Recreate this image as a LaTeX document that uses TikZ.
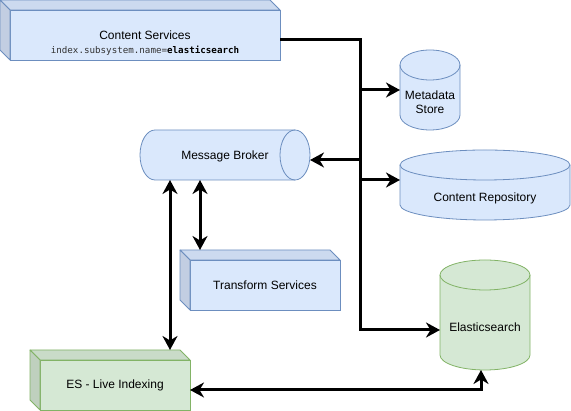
\documentclass[tikz,border=0pt]{standalone}
\usepackage{fontspec}
\setmainfont{Liberation Sans}
\newfontfamily\codefont{DejaVu Sans Mono}
\usetikzlibrary{arrows.meta,backgrounds}

\definecolor{blueFill}{HTML}{DAE8FC}
\definecolor{blueLine}{HTML}{6C8EBF}
\definecolor{blueTop}{HTML}{CCDAEF}
\definecolor{blueSide}{HTML}{C2CEE2}
\definecolor{greenFill}{HTML}{D5E8D4}
\definecolor{greenLine}{HTML}{82B366}
\definecolor{greenTop}{HTML}{C9DBC8}
\definecolor{greenSide}{HTML}{BFD0BE}
\definecolor{codeGray}{HTML}{333333}

\begin{document}
\begin{tikzpicture}[x=1pt, y=1pt, >={Stealth[length=14pt, width=15pt, inset=4.5pt]},
    font=\fontsize{12}{14}\selectfont,
    box/.style={draw=#1Line, fill=#1Fill, line width=0.8pt, inner sep=0pt, outer sep=0pt,
      minimum width=150pt, minimum height=50pt},
    top/.style={draw=#1Line, fill=#1Top, line width=0.8pt, line join=round},
    side/.style={draw=#1Line, fill=#1Side, line width=0.8pt, line join=round},
    db/.style={inner sep=0pt, outer sep=0pt, align=center, text depth=6pt},
    dbface/.style={draw=#1Line, fill=#1Fill, line width=0.8pt},
    dbline/.style={draw=#1Line, line width=0.8pt},
    wire/.style={line width=3pt}]

  \useasboundingbox (0,0) rectangle (571,411);

  %%%%%%%%%%%%%%%%%%%%%%%%%%%%%%%%%%%%%%%%%%%%%%%%%
  % Services (cubes)
  \node[box=blue, minimum width=270pt] (cs) at (145,376) {Content Services};
  \node[font=\codefont\fontsize{9.2}{11}\selectfont] (csNote) at ([yshift=-16pt]cs.center)
      {\textcolor{codeGray}{index.subsystem.name=}\textbf{elasticsearch}};
  \node[box=blue] (ts) at (265,126) {Transform Services};
  \node[box=green] (esl) at (115,26) {ES - Live Indexing};

  % Top and left faces
  \filldraw[top=blue] ([shift={(-10,10)}]cs.north west) -- ([shift={(-10,10)}]cs.north east)
      -- (cs.north east) -- (cs.north west) -- cycle;
  \filldraw[side=blue] ([shift={(-10,10)}]cs.north west) -- (cs.north west)
      -- (cs.south west) -- ([shift={(-10,10)}]cs.south west) -- cycle;
  \filldraw[top=blue] ([shift={(-10,10)}]ts.north west) -- ([shift={(-10,10)}]ts.north east)
      -- (ts.north east) -- (ts.north west) -- cycle;
  \filldraw[side=blue] ([shift={(-10,10)}]ts.north west) -- (ts.north west)
      -- (ts.south west) -- ([shift={(-10,10)}]ts.south west) -- cycle;
  \filldraw[top=green] ([shift={(-10,10)}]esl.north west) -- ([shift={(-10,10)}]esl.north east)
      -- (esl.north east) -- (esl.north west) -- cycle;
  \filldraw[side=green] ([shift={(-10,10)}]esl.north west) -- (esl.north west)
      -- (esl.south west) -- ([shift={(-10,10)}]esl.south west) -- cycle;

  %%%%%%%%%%%%%%%%%%%%%%%%%%%%%%%%%%%%%%%%%%%%%%%%%
  % Stores (cylinders)
  \node[db, text depth=0pt, minimum width=170pt, minimum height=50pt] (mb) at (225,256) {Message Broker};
  \node[db, minimum width=60pt, minimum height=50pt] (meta) at (430,306) {Metadata\\Store};
  \node[db, minimum width=170pt, minimum height=40pt] (repo) at (485,211) {Content Repository};
  \node[db, minimum width=90pt, minimum height=80pt] (es) at (485,81) {Elasticsearch};

  \begin{scope}[on background layer]
    % Message Broker, lying
    \filldraw[dbface=blue] ([xshift=15pt]mb.north west) -- ([xshift=-15pt]mb.north east)
        arc[start angle=90, end angle=-90, x radius=15, y radius=25]
        -- ([xshift=15pt]mb.south west)
        arc[start angle=270, end angle=90, x radius=15, y radius=25] -- cycle;
    \draw[dbline=blue] ([xshift=-15pt]mb.north east)
        arc[start angle=90, end angle=270, x radius=15, y radius=25];

    % Metadata Store
    \filldraw[dbface=blue] ([yshift=15pt]meta.north west) -- ([yshift=15pt]meta.south west)
        arc[start angle=180, end angle=360, x radius=30, y radius=15]
        -- ([yshift=15pt]meta.north east)
        arc[start angle=0, end angle=180, x radius=30, y radius=15] -- cycle;
    \draw[dbline=blue] ([yshift=15pt]meta.north west)
        arc[start angle=180, end angle=360, x radius=30, y radius=15];

    % Content Repository
    \filldraw[dbface=blue] ([yshift=15pt]repo.north west) -- ([yshift=15pt]repo.south west)
        arc[start angle=180, end angle=360, x radius=85, y radius=15]
        -- ([yshift=15pt]repo.north east)
        arc[start angle=0, end angle=180, x radius=85, y radius=15] -- cycle;
    \draw[dbline=blue] ([yshift=15pt]repo.north west)
        arc[start angle=180, end angle=360, x radius=85, y radius=15];

    % Elasticsearch
    \filldraw[dbface=green] ([yshift=15pt]es.north west) -- ([yshift=15pt]es.south west)
        arc[start angle=180, end angle=360, x radius=45, y radius=15]
        -- ([yshift=15pt]es.north east)
        arc[start angle=0, end angle=180, x radius=45, y radius=15] -- cycle;
    \draw[dbline=green] ([yshift=15pt]es.north west)
        arc[start angle=180, end angle=360, x radius=45, y radius=15];
  \end{scope}

  %%%%%%%%%%%%%%%%%%%%%%%%%%%%%%%%%%%%%%%%%%%%%%%%%
  % Connectors
  \coordinate (bus) at (360,371);
  \draw[wire, ->] ([yshift=-5pt]cs.east) -- (bus) |- (es.west);
  \draw[wire, <-] ([yshift=15pt]meta.west) -- ++(-40,0);
  \draw[wire, <-] ([yshift=-5pt]mb.east) -- ++(50,0);
  \draw[wire, <-] ([yshift=20pt]repo.west) -- ++(-40,0);

  \draw[wire, <->] ([xshift=-55pt]mb.south) -- ([shift={(55,10)}]esl.north);
  \draw[wire, <->] ([xshift=-25pt]mb.south) -- ([shift={(-65,10)}]ts.north);
  \draw[wire, <->] ([yshift=-5pt]esl.east) -| ([xshift=-4pt]es.south);

\end{tikzpicture}
\end{document}
